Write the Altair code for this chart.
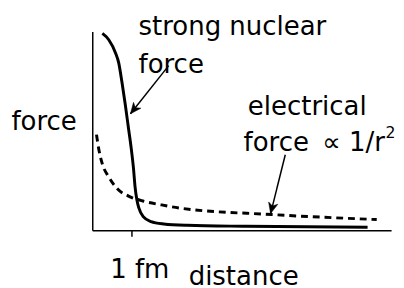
import math
import altair as alt
import pandas as pd

# Strong nuclear force curve (distance in fm, force in arbitrary units)
strong_x = [0.258, 0.425, 0.593, 0.675, 0.758, 0.843, 0.925, 0.993, 1.05, 1.093, 1.138, 1.188, 1.30, 1.50, 1.825, 2.425, 3.925, 7.025]
strong_y = [0.990, 0.957, 0.892, 0.842, 0.744, 0.631, 0.512, 0.414, 0.315, 0.217, 0.153, 0.113, 0.069, 0.044, 0.032, 0.025, 0.020, 0.015]

# Electrical force curve
elec_x = [0.108, 0.175, 0.258, 0.425, 0.633, 0.925, 1.258, 1.758, 2.218, 4.593, 7.258]
elec_y = [0.481, 0.399, 0.333, 0.267, 0.210, 0.172, 0.149, 0.128, 0.112, 0.079, 0.054]

# Annotations (left-aligned)
label_text = ["strong nuclear", "force", "electrical"]
label_x = [1.18, 1.18, 3.97]
label_y = [0.980, 0.793, 0.581]

# Formula label, right-aligned so the exponent sits right after it
formula_text = ["force \u2009\u221d 1/r"]
formula_x = [7.47]
formula_y = [0.399]

# Superscript exponent of 1/r^2
sup_text = ["2"]
sup_x = [7.485]
sup_y = [0.463]

# Arrows: start -> tip
arrow_x0 = [1.95, 4.925]
arrow_y0 = [0.828, 0.380]
arrow_x1 = [0.975, 4.55]
arrow_y1 = [0.586, 0.084]

tick_values = [1]
tick_labels = ["1 fm"]

W, H = 305, 203
XMAX, YMAX = 7.625, 1.0
FONT = "DejaVu Sans"
FS = 26.5

strong = pd.DataFrame({"x": strong_x, "y": strong_y})
elec = pd.DataFrame({"x": elec_x, "y": elec_y})
labels = pd.DataFrame({"x": label_x, "y": label_y, "t": label_text})
formula = pd.DataFrame({"x": formula_x, "y": formula_y, "t": formula_text})
sups = pd.DataFrame({"x": sup_x, "y": sup_y, "t": sup_text})
ang = []
for a, b, c, d in zip(arrow_x0, arrow_y0, arrow_x1, arrow_y1):
    dxp = (c - a) * W / XMAX
    dyp = -(d - b) * H / YMAX
    ang.append(math.degrees(math.atan2(-dxp, dyp)) % 360)
arrows = pd.DataFrame({"x0": arrow_x0, "y0": arrow_y0, "x1": arrow_x1, "y1": arrow_y1, "ang": ang})

xs = alt.Scale(domain=[0, XMAX], nice=False, zero=False)
ys = alt.Scale(domain=[0, YMAX], nice=False, zero=False)

xaxis = alt.Axis(
    values=tick_values,
    labelExpr="'" + tick_labels[0] + "'",
    grid=False, domainColor="black", domainWidth=1.5,
    tickColor="black", tickSize=6, tickWidth=1.5,
    labelFont=FONT, labelFontSize=FS, labelColor="black",
    labelBaseline="alphabetic", labelPadding=42, labelOffset=8,
    title="distance", titleFont=FONT, titleFontSize=FS, titleFontWeight="normal",
    titleColor="black", titleBaseline="alphabetic", titleY=55, titleX=154,
)
yaxis = alt.Axis(
    values=[], grid=False, domainColor="black", domainWidth=1.5, ticks=False, labels=False,
    title="force", titleFont=FONT, titleFontSize=FS, titleFontWeight="normal",
    titleColor="black", titleAngle=0, titleAlign="left", titleBaseline="alphabetic",
    titleX=-83, titleY=100,
)

base_x = alt.X("x:Q", scale=xs, axis=xaxis)
base_y = alt.Y("y:Q", scale=ys, axis=yaxis)

strong_line = alt.Chart(strong).mark_line(color="black", strokeWidth=3, interpolate="monotone").encode(
    x=base_x, y=base_y)
elec_line = alt.Chart(elec).mark_line(color="black", strokeWidth=3, strokeDash=[7, 5], interpolate="monotone").encode(
    x=alt.X("x:Q", scale=xs), y=alt.Y("y:Q", scale=ys))
text = alt.Chart(labels).mark_text(align="left", baseline="alphabetic", font=FONT, fontSize=FS, color="black").encode(
    x=alt.X("x:Q", scale=xs), y=alt.Y("y:Q", scale=ys), text="t:N")
ftext = alt.Chart(formula).mark_text(align="right", baseline="alphabetic", font=FONT, fontSize=FS, color="black").encode(
    x=alt.X("x:Q", scale=xs), y=alt.Y("y:Q", scale=ys), text="t:N")
sup = alt.Chart(sups).mark_text(align="left", baseline="alphabetic", font=FONT, fontSize=16, color="black").encode(
    x=alt.X("x:Q", scale=xs), y=alt.Y("y:Q", scale=ys), text="t:N")
arrow_lines = alt.Chart(arrows).mark_rule(color="black", strokeWidth=1.5).encode(
    x=alt.X("x0:Q", scale=xs), y=alt.Y("y0:Q", scale=ys), x2="x1:Q", y2="y1:Q")
heads = alt.Chart(arrows).mark_point(
    shape="M0,0L-0.7,-1.6L0,-1.15L0.7,-1.6Z", filled=True, fill="black", stroke="black",
    strokeWidth=0.5, size=190, opacity=1,
).encode(x=alt.X("x1:Q", scale=xs), y=alt.Y("y1:Q", scale=ys), angle=alt.Angle("ang:Q", scale=None))

chart = alt.layer(strong_line, elec_line, arrow_lines, heads, text, ftext, sup).properties(
    width=W, height=H,
    autosize=alt.AutoSizeParams(type="none"),
    padding={"left": 86, "top": 21, "right": 5, "bottom": 56},
).configure_view(stroke=None)

chart.save("out.html", embed_options={"renderer": "svg", "actions": False})
